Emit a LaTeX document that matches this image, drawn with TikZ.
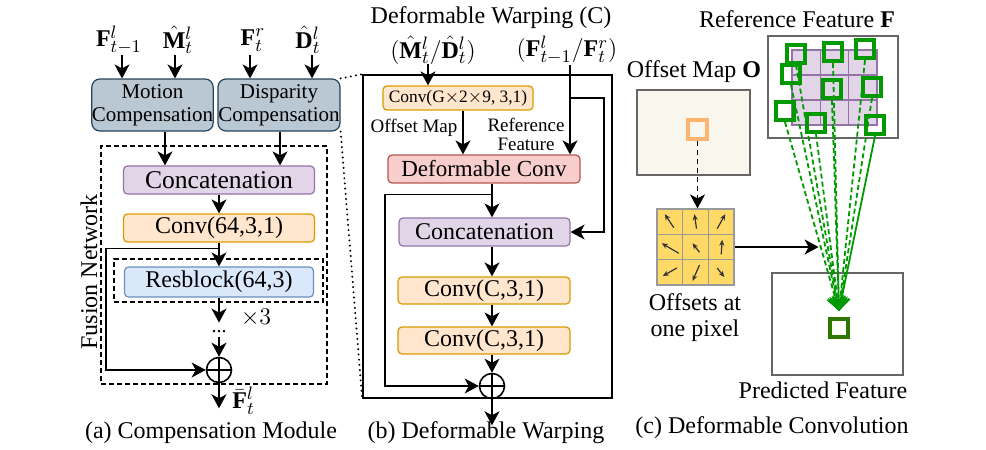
\documentclass[tikz,border=0pt]{standalone}
\usepackage{fontspec}
\setmainfont{Liberation Serif}
\DeclareMathSizes{12}{12}{9}{7}
\usetikzlibrary{arrows.meta,positioning}

\definecolor{mcfill}{HTML}{BAC8D3}
\definecolor{mcline}{HTML}{23445D}
\definecolor{catfill}{HTML}{E1D5E7}
\definecolor{catline}{HTML}{9673A6}
\definecolor{convfill}{HTML}{FFE6CC}
\definecolor{convline}{HTML}{D79B00}
\definecolor{resfill}{HTML}{DAE8FC}
\definecolor{resline}{HTML}{6C8EBF}
\definecolor{dcfill}{HTML}{F8CECC}
\definecolor{dcline}{HTML}{B85450}
\definecolor{offfill}{HTML}{FFD966}
\definecolor{gridgray}{HTML}{999999}
\definecolor{mapfill}{HTML}{F9F7ED}
\definecolor{mapline}{HTML}{666666}
\definecolor{sampgreen}{HTML}{009900}
\definecolor{outgreen}{HTML}{2D7600}
\definecolor{pixorange}{HTML}{FFB570}

\tikzset{
  blk/.style={rectangle, rounded corners=2pt, draw, line width=0.6pt, inner sep=0pt, align=center},
  txt/.style={inner sep=0pt, align=center, font=\fontsize{12}{14}\selectfont},
  arr/.style={-{Stealth[length=7pt,width=7.5pt,inset=2pt]}, line width=0.8pt},
  dashbox/.style={rectangle, draw, line width=0.7pt, dash pattern=on 2.5pt off 1.5pt, inner sep=0pt},
  dotline/.style={line width=1.1pt, dash pattern=on 0pt off 2.6pt, line cap=round},
  sumnode/.style={circle, draw, line width=0.8pt, minimum size=12.5pt, inner sep=0pt},
  panel/.style={rectangle, draw=mapline, line width=0.8pt, inner sep=0pt},
  samp/.style={rectangle, draw=sampgreen, line width=2pt, minimum size=9pt, inner sep=0pt},
  offarr/.style={-{Stealth[length=3pt,width=2.6pt]}, line width=0.6pt, black!80},
  samparr/.style={-{Stealth[length=7pt,width=9pt]}, sampgreen, line width=0.9pt, dash pattern=on 2.5pt off 1.5pt},
}

\begin{document}
\begin{tikzpicture}[x=0.5pt, y=-0.5pt]
\useasboundingbox (0,0) rectangle (986,450);

% (a) compensation module
\node (inFl) [txt] at (119,40) {$\mathbf{F}^l_{t-1}$};
\node (inM) [txt] at (178,40) {$\hat{\mathbf{M}}^l_t$};
\node (inFr) [txt] at (253,40) {$\mathbf{F}^r_t$};
\node (inD) [txt] at (308,40) {$\hat{\mathbf{D}}^l_t$};

\node (mc) [blk, rounded corners=4pt, fill=mcfill, draw=mcline, minimum width=60.5pt, minimum height=26pt, font=\fontsize{10.5}{11.5}\selectfont] at (152.5,105) {Motion\\Compensation};
\node (dc) [blk, rounded corners=4pt, fill=mcfill, draw=mcline, minimum width=61pt, minimum height=26pt, font=\fontsize{10.5}{11.5}\selectfont] at (279,105) {Disparity\\Compensation};

\coordinate (colFl) at (122,0);
\coordinate (colM) at (175,0);
\coordinate (colFr) at (250,0);
\coordinate (colD) at (312,0);
\draw [arr] (colFl |- inFl.south) -- (colFl |- mc.north);
\draw [arr] (colM |- inFl.south) -- (colM |- mc.north);
\draw [arr] (colFr |- inFl.south) -- (colFr |- dc.north);
\draw [arr] (colD |- inFl.south) -- (colD |- dc.north);

\node (fus) [dashbox, minimum width=113pt, minimum height=119pt] at (214,265) {};
\node (fuslbl) [txt, rotate=90] at (89,272) {Fusion Network};

\node (catA) [blk, fill=catfill, draw=catline, minimum width=95.5pt, minimum height=14pt, font=\fontsize{12.8}{14}\selectfont] at (219,180) {Concatenation};
\node (conv64) [blk, fill=convfill, draw=convline, minimum width=95.5pt, minimum height=14pt] at (219,228) {\fontsize{12}{14}\selectfont Conv(64,3,1)};

\coordinate (colMC) at (165,0);
\coordinate (colDC) at (280,0);
\draw [arr] (colMC |- mc.south) -- (colMC |- catA.north);
\draw [arr] (colDC |- dc.south) -- (colDC |- catA.north);
\draw [arr] (catA.south) -- (conv64.north);

\node (rep) [dashbox, minimum width=104.5pt, minimum height=21.5pt] at (218.5,280.5) {};
\node (resA) [blk, fill=resfill, draw=resline, minimum width=94.5pt, minimum height=15pt] at (219,282) {\fontsize{12}{14}\selectfont Resblock(64,3)};
\draw [arr] (conv64.south) -- (resA.north);

\path (resA.south) -- +(0,25) coordinate (repend);
\draw [arr] (resA.south) -- (repend);
\node (times3) [txt] at (256,318) {$\times 3$};
\node (dotsA) [txt, font=\fontsize{10}{12}\selectfont] at (219,332) {...};

\node (sumA) [sumnode] at (219,370) {};
\draw [line width=0.8pt] (sumA.north) -- (sumA.south) (sumA.west) -- (sumA.east);
\draw [arr, shorten <=1.5pt] (dotsA.south) -- (sumA.north);
\draw [arr] (conv64.south) ++(0,6) -- ++(-113,0) |- (sumA.west);

\path (sumA.south) -- +(0,25) coordinate (outA);
\draw [arr] (sumA.south) -- (outA);
\node (FoutA) [txt, anchor=west] at (232,401) {$\bar{\mathbf{F}}^l_t$};

\node (capA) [txt] at (211,433) {(a) Compensation Module};

% (b) deformable warping
\node (wb) [rectangle, draw, line width=0.8pt, minimum width=124.5pt, minimum height=161.5pt, inner sep=0pt] at (487.5,236.5) {};
\draw [dotline] (dc.north east) -- (wb.north west);
\draw [dotline] (dc.south east) -- (wb.south west);

\node (titleB) [txt] at (491,18) {Deformable Warping (C)};
\node (inMD) [txt] at (433,50) {$(\hat{\mathbf{M}}^l_t/\hat{\mathbf{D}}^l_t)$};
\node (inFF) [txt] at (567,50) {$(\mathbf{F}^l_{t-1}/\mathbf{F}^r_t)$};

\node (convG) [blk, fill=convfill, draw=convline, minimum width=75pt, minimum height=12pt, font=\fontsize{8.7}{10}\selectfont] at (458,98) {Conv(G$\times$2$\times$9, 3,1)};
\coordinate (colMD) at (428,0);
\coordinate (colFF) at (570,0);
\draw [arr] (colMD |- inMD.south) -- (colMD |- convG.north);

\node (offlbl) [txt, font=\fontsize{9.5}{10}\selectfont] at (414,128) {Offset Map};
\node (reflbl) [txt, font=\fontsize{9.5}{9.5}\selectfont] at (526,134) {Reference\\Feature};

\node (dconv) [blk, fill=dcfill, draw=dcline, minimum width=96pt, minimum height=14pt, font=\fontsize{11.5}{13}\selectfont] at (484,169) {Deformable Conv};
\coordinate (colOff) at (463,0);
\draw [arr] (colOff |- convG.south) -- (colOff |- dconv.north);
\draw [arr] (colFF |- inFF.south) -- (colFF |- dconv.north);

\node (catB) [blk, fill=catfill, draw=catline, minimum width=85.5pt, minimum height=14pt] at (484.5,232) {\fontsize{12}{14}\selectfont Concatenation};
\draw [arr] (colFF |- convG.center) -- ++(34,0) |- (catB.east);

\node (convC1) [blk, fill=convfill, draw=convline, minimum width=86pt, minimum height=13.5pt] at (484,290.5) {\fontsize{12}{14}\selectfont Conv(C,3,1)};
\node (convC2) [blk, fill=convfill, draw=convline, minimum width=86pt, minimum height=13.5pt] at (484,340.5) {\fontsize{12}{14}\selectfont Conv(C,3,1)};
\node (sumB) [sumnode] at (492,386) {};
\draw [line width=0.8pt] (sumB.north) -- (sumB.south) (sumB.west) -- (sumB.east);

\coordinate (colB) at (492,0);
\draw [arr] (colB |- dconv.south) -- (colB |- catB.north);
\draw [arr] (colB |- dconv.south) ++(0,11) -- ++(-107,0) |- (sumB.west);
\draw [arr] (colB |- catB.south) -- (colB |- convC1.north);
\draw [arr] (colB |- convC1.south) -- (colB |- convC2.north);
\draw [arr] (colB |- convC2.south) -- (sumB.north);

\path (sumB.south) -- +(0,26) coordinate (outB);
\draw [arr] (sumB.south) -- (outB);

\node (capB) [txt] at (486,433) {(b) Deformable Warping};

% (c) deformable convolution
\node (offlblC) [txt] at (694,72) {Offset Map $\mathbf{O}$};
\node (offmap) [panel, fill=mapfill, minimum width=56.5pt, minimum height=42.5pt] at (693.5,132.5) {};
\node (pix) [rectangle, draw=pixorange, line width=1.8pt, minimum size=9.5pt, inner sep=0pt] at (697.5,129.5) {};

\node (offgrid) [rectangle, draw=gridgray, fill=offfill, line width=0.6pt, minimum width=38.5pt, minimum height=38pt, inner sep=0pt] at (695.5,247) {};
\draw [gridgray, line width=0.6pt] (682.7,209) -- (682.7,285);
\draw [gridgray, line width=0.6pt] (708.3,209) -- (708.3,285);
\draw [gridgray, line width=0.6pt] (657,234.3) -- (734,234.3);
\draw [gridgray, line width=0.6pt] (657,259.7) -- (734,259.7);

\draw [offarr] (673.8,227.7) -- (664.8,214.2);
\draw [offarr] (696.5,228.7) -- (694.5,214.2);
\draw [offarr] (717.2,228.7) -- (725.2,214.2);
\draw [offarr] (678.8,253.3) -- (661.8,243.3);
\draw [offarr] (699.5,252.3) -- (692.5,243.3);
\draw [offarr] (721.2,254.3) -- (722.2,239.8);
\draw [offarr] (676.8,268) -- (662.8,276);
\draw [offarr] (699.5,265) -- (692.5,281);
\draw [offarr] (717.2,268) -- (724.2,277);

\draw [arr, dash pattern=on 2.5pt off 2pt] (pix.south) -- (pix.south |- offgrid.north);
\path (offgrid.east) -- +(84,0) coordinate (gridto);
\draw [arr] (offgrid.east) -- (gridto);
\node (offtxt) [txt, font=\fontsize{12}{13}\selectfont] at (695,318) {Offsets at\\one pixel};

\node (reflblC) [txt] at (797,19) {Reference Feature $\mathbf{F}$};
\node (reffeat) [panel, fill=white, minimum width=65pt, minimum height=51pt] at (833,87) {};
\node (kern) [rectangle, fill=catfill, draw=catline, line width=0.6pt, minimum width=42.5pt, minimum height=37.5pt, inner sep=0pt] at (834.5,87.5) {};
\draw [catline, line width=0.6pt] (820.3,50) -- (820.3,125);
\draw [catline, line width=0.6pt] (848.7,50) -- (848.7,125);
\draw [catline, line width=0.6pt] (792,75) -- (877,75);
\draw [catline, line width=0.6pt] (792,100) -- (877,100);

\node (g1) [samp] at (796,54) {};
\node (g2) [samp] at (833,52) {};
\node (g3) [samp] at (865,49) {};
\node (g4) [samp] at (791,74) {};
\node (g5) [samp] at (832,89) {};
\node (g6) [samp] at (872,87) {};
\node (g7) [samp] at (785,111) {};
\node (g8) [samp] at (816,123) {};
\node (g9) [samp] at (875,125) {};

\node (predfeat) [panel, minimum width=65.5pt, minimum height=51pt] at (837.5,324) {};
\node (pout) [rectangle, draw=outgreen, line width=2pt, minimum size=9pt, inner sep=0pt] at (839,328) {};
\path (pout.north) -- +(0,-6) coordinate (tgt);

\draw [samparr] (g1.south) -- (tgt);
\draw [samparr] (g2.south) -- (tgt);
\draw [samparr] (g3.south) -- (tgt);
\draw [samparr] (g4.south) -- (tgt);
\draw [samparr] (g5.south) -- (tgt);
\draw [samparr] (g6.south) -- (tgt);
\draw [samparr] (g7.south) -- (tgt);
\draw [samparr] (g8.south) -- (tgt);
\draw [samparr, solid] (g9.south) -- (tgt);

\node (predlbl) [txt] at (823,390) {Predicted Feature};
\node (capC) [txt] at (772,428) {(c) Deformable Convolution};

\end{tikzpicture}
\end{document}
